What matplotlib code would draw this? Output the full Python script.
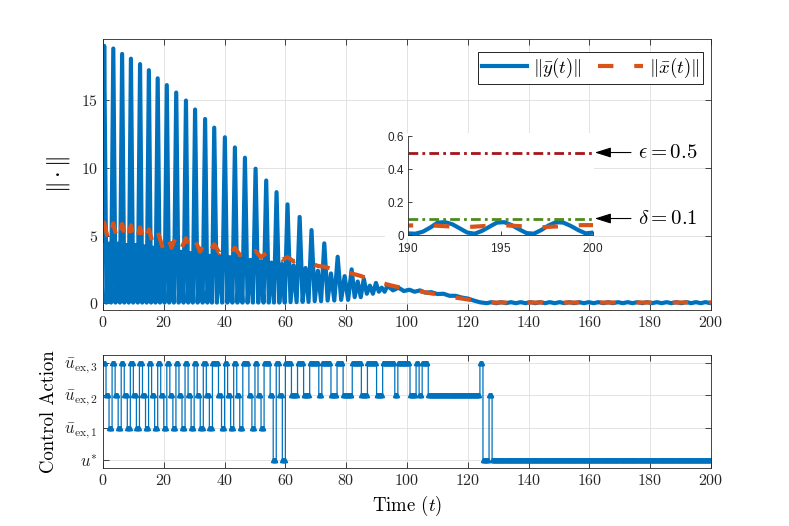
import numpy as np
import matplotlib
matplotlib.use("Agg")
import matplotlib.pyplot as plt
from matplotlib.patches import Rectangle

plt.rcParams['font.family'] = 'cmr10'
plt.rcParams['mathtext.fontset'] = 'cm'
plt.rcParams['axes.formatter.use_mathtext'] = True
plt.rcParams['axes.unicode_minus'] = False

# ---- data ----
# big peaks of ||y(t)||
peak_t = [0.4, 3.4, 6.3, 9.2, 12.2, 15.1, 18.0, 21.0, 24.1, 27.3, 30.3, 33.6, 36.6, 40.1,
          43.4, 46.7, 50.2, 53.7, 57.1, 60.7, 64.7, 68.6, 72.8, 77.2, 81.8, 85.8, 89.8, 93.6]
peak_y = [19.0, 18.8, 18.4, 18.05, 17.65, 17.2, 16.6, 16.1, 15.55, 14.96, 14.3, 13.6, 12.96, 12.25,
          11.5, 10.74, 9.93, 9.06, 8.2, 7.3, 6.37, 5.4, 4.42, 3.43, 2.5, 1.8, 1.5, 1.3]
# between two big peaks: dip - small bump - dip
gap_bump = [4.4, 4.4, 4.3, 4.3, 4.2, 4.1, 4.0, 3.9, 3.8, 3.7, 3.6, 3.5, 3.45, 3.4,
            3.3, 3.2, 3.1, 3.0, 2.9, 2.8, 2.6, 2.4, 2.2, 2.0, 1.6, 1.3, 1.15]
gap_dip = [0.05, 0.05, 0.05, 0.05, 0.05, 0.05, 0.05, 0.05, 0.05, 0.05, 0.05, 0.05, 0.05, 0.05,
           0.05, 0.05, 0.05, 0.05, 0.05, 0.08, 0.1, 0.15, 0.2, 0.25, 0.45, 0.7, 0.85]
y_late_t = [95.4, 97.2, 99.0, 100.8, 102.5, 104.3, 106.0, 108.0, 110.0, 112.0, 114.0, 116.0,
            118.0, 120.0, 122.0, 124.0]
y_late_v = [0.95, 1.15, 0.9, 1.0, 0.85, 0.95, 0.78, 0.82, 0.68, 0.7, 0.55, 0.55,
            0.42, 0.35, 0.2, 0.07]
y_tail_min_t = [126.2, 129.4, 132.6, 135.8, 139.0, 142.2, 145.4, 148.6, 151.8, 155.0,
                158.2, 161.4, 164.6, 167.8, 171.0, 174.2, 177.4, 180.6, 183.8, 187.0]
y_tail_max_t = [127.8, 131.0, 134.2, 137.4, 140.6, 143.8, 147.0, 150.2, 153.4, 156.6,
                159.8, 163.0, 166.2, 169.4, 172.6, 175.8, 179.0, 182.2, 185.4, 188.6]
y_tail_lo, y_tail_hi = 0.005, 0.08
# close-up 190..200 (inset)
y_end_t = [190.0, 190.4, 190.8, 191.2, 191.6, 192.0, 192.4, 192.8, 193.2, 193.6, 194.0, 194.4, 194.8,
           195.2, 195.6, 196.0, 196.4, 196.8, 197.2, 197.6, 198.0, 198.4, 198.8, 199.2, 199.6, 200.0]
y_end_v = [0.01, 0.008, 0.02, 0.045, 0.075, 0.078, 0.065, 0.04, 0.015, 0.008, 0.025, 0.05, 0.075,
           0.078, 0.06, 0.035, 0.012, 0.008, 0.03, 0.058, 0.078, 0.075, 0.055, 0.03, 0.01, 0.015]

# ||x(t)||: high value at each big peak, low value between peaks
x_hi = [5.95, 5.9, 5.85, 5.75, 5.6, 5.45, 5.3, 5.15, 5.0, 4.8, 4.65, 4.5, 4.35, 4.2,
        4.1, 4.0, 3.85, 3.7, 3.55, 3.4, 3.2, 2.95, 2.7, 2.45, 2.2]
x_lo = [4.5, 4.5, 4.45, 4.4, 4.35, 4.3, 4.2, 4.1, 4.0, 3.9, 3.8, 3.75, 3.7, 3.65,
        3.55, 3.5, 3.4, 3.3, 3.2, 3.1, 2.95, 2.75, 2.55, 2.35]
x_late_t = [85.0, 90.0, 95.0, 100.0, 105.0, 110.0, 115.0, 120.0, 124.0, 126.0, 150.0, 175.0, 189.0,
            191.0, 193.0, 195.0, 197.2, 199.4, 200.0]
x_late_v = [2.0, 1.6, 1.3, 1.05, 0.85, 0.65, 0.45, 0.28, 0.1, 0.055, 0.055, 0.055, 0.055,
            0.06, 0.047, 0.06, 0.047, 0.06, 0.06]

eps_val = 0.5
delta_val = 0.1

# control action: one level per time step t = 0..200
ctrl_code = ("321321321321321321321321321321321321" + "3321321" + "321" + "3321" + "321"
             + "3320320" + "3322" + "3322" + "3332" + "33322" + "33222" + "33322" + "33322"
             + "33332" + "333322" + "3233" + "2" * 17 + "3" + "00" + "2" + "0" * 73)
ctrl_ticklabels = [r'$u^{*}$', r'$\bar{u}_{\mathrm{ex},1}$', r'$\bar{u}_{\mathrm{ex},2}$',
                   r'$\bar{u}_{\mathrm{ex},3}$']

# ---- build the curves from the read points ----
yt = [0.0]
yv = [4.6]
for k in range(len(peak_t)):
    yt.append(peak_t[k])
    yv.append(peak_y[k])
    if k < len(gap_bump):
        g = peak_t[k + 1] - peak_t[k]
        yt += [peak_t[k] + 0.25 * g, peak_t[k] + 0.5 * g, peak_t[k] + 0.75 * g]
        yv += [gap_dip[k], gap_bump[k], gap_dip[k]]
yt += y_late_t
yv += y_late_v
for a, b in zip(y_tail_min_t, y_tail_max_t):
    yt += [a, b]
    yv += [y_tail_lo, y_tail_hi]
yt += y_end_t
yv += y_end_v

xt = [0.0]
xv = [5.95]
for k in range(len(x_hi)):
    xt.append(peak_t[k])
    xv.append(x_hi[k])
    if k < len(x_lo):
        xt.append(0.5 * (peak_t[k] + peak_t[k + 1]))
        xv.append(x_lo[k])
xt += x_late_t
xv += x_late_v

u = np.array([int(c) for c in ctrl_code])
# zero-order hold of the samples, drawn on a finer grid so the markers merge
t_hold = np.arange(0, len(u) - 1 + 1e-9, 0.25)
u_hold = u[np.floor(t_hold).astype(int)]

blue = '#0072BD'
orange = '#D95319'
axcol = '#262626'
gridcol = '#dedede'

fig = plt.figure(figsize=(7.89, 5.26), dpi=100)
ax = fig.add_axes([0.1305, 0.4106, 0.7706, 0.5152])
ax2 = fig.add_axes([0.1305, 0.1103, 0.7706, 0.2148])

for a in (ax, ax2):
    a.grid(True, color=gridcol, lw=0.6)
    a.set_axisbelow(True)
    a.tick_params(direction='in', top=True, right=True, labelsize=11.5, colors=axcol,
                  length=4, width=0.6)
    for s in a.spines.values():
        s.set_color(axcol)
        s.set_linewidth(0.6)

ax.plot(yt, yv, color=blue, lw=3, label=r'$\|\bar{y}(t)\|$')
ax.plot(xt, xv, color=orange, lw=3, dashes=(3.7, 5.0), label=r'$\|\bar{x}(t)\|$')
ax.set_xlim(0, 200)
ax.set_ylim(-0.5, 19.5)
ax.set_xticks(np.arange(0, 201, 20))
ax.set_yticks([0, 5, 10, 15])
ax.set_ylabel(r'$\|\cdot\|$', fontsize=17, labelpad=6)
leg = ax.legend(loc='upper right', bbox_to_anchor=(0.987, 0.952), borderaxespad=0, ncol=2,
                fontsize=13.5, frameon=True, fancybox=False, framealpha=1, edgecolor='k',
                handlelength=2.4, handletextpad=0.3, columnspacing=0.9, borderpad=0.2)
leg.get_frame().set_linewidth(0.6)

ax2.step(t_hold, u_hold, where='post', color=blue, lw=0.9)
ax2.plot(t_hold, u_hold, ls='none', marker='^', ms=3.0, color=blue)
ax2.set_xlim(0, 200)
ax2.set_ylim(-0.25, 3.25)
ax2.set_xticks(np.arange(0, 201, 20))
ax2.set_yticks([0, 1, 2, 3])
ax2.set_yticklabels(ctrl_ticklabels, fontsize=12)
ax2.set_xlabel(r'Time $(t)$', fontsize=13.5)
ax2.set_ylabel('Control Action', fontsize=13.5)

# white backdrop and inset
fig.patches.append(Rectangle((0.488, 0.5475), 0.265, 0.2, transform=fig.transFigure,
                             facecolor='white', edgecolor='none', zorder=0.5))
axin = fig.add_axes([0.5171, 0.5532, 0.2345, 0.1882], zorder=1)
axin.plot(yt, yv, color=blue, lw=3)
axin.plot(xt, xv, color=orange, lw=3, dashes=(3.7, 5.0))
axin.plot([190, 200], [eps_val, eps_val], color='#a8141c', lw=2, dashes=(3.5, 1.5, 1, 1.5))
axin.plot([190, 200], [delta_val, delta_val], color='#4b8b1b', lw=2, dashes=(3.5, 1.5, 1, 1.5))
axin.set_xlim(190, 200)
axin.set_ylim(0, 0.6)
axin.set_xticks([190, 195, 200])
axin.set_yticks([0, 0.2, 0.4, 0.6])
axin.set_yticklabels(['0', '0.2', '0.4', '0.6'])
axin.spines['top'].set_visible(False)
axin.spines['right'].set_visible(False)
for s in ('left', 'bottom'):
    axin.spines[s].set_color(axcol)
    axin.spines[s].set_linewidth(0.6)
axin.tick_params(direction='in', labelsize=8.5, colors=axcol, length=3, width=0.6,
                 labelfontfamily='Liberation Sans')
axin.tick_params(axis='x', pad=5)
axin.tick_params(axis='y', pad=3)

for val, txt in ((eps_val, r'$\epsilon = 0.5$'), (delta_val, r'$\delta = 0.1$')):
    axin.annotate(txt, xy=(200.1, val), xycoords='data', xytext=(31, 0),
                  textcoords='offset points', ha='left', va='center', fontsize=15,
                  annotation_clip=False,
                  arrowprops=dict(arrowstyle='-|>,head_length=0.7,head_width=0.22', color='k',
                                  lw=0.8, shrinkA=3, shrinkB=0, mutation_scale=14))

fig.savefig('out.png', dpi=100)
